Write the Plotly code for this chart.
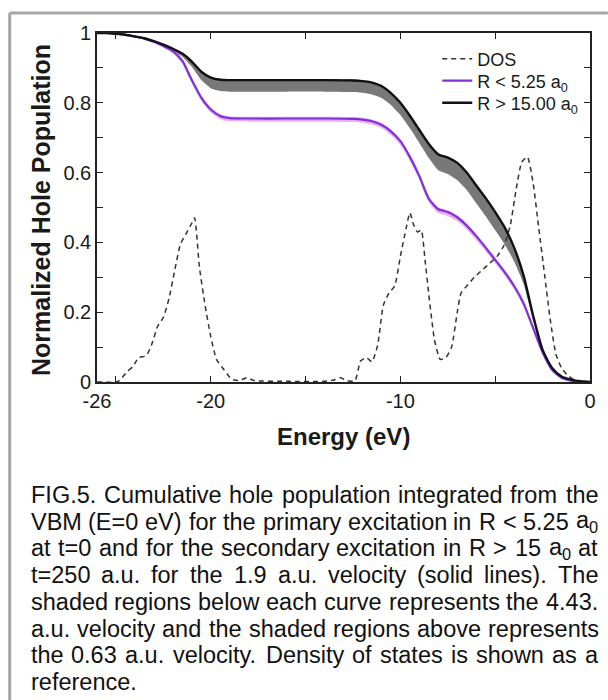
import re
import plotly.graph_objects as go

# ---------------- data ----------------
energy = [-26, -25.5, -25, -24.5, -24, -23.5, -23, -22.5, -22, -21.5, -21, -20.5, -20, -19.5, -19,
          -18, -16, -14, -12.5, -12, -11.5, -11, -10.5, -10, -9.5, -9, -8.5, -8, -7.5, -7, -6.5,
          -6, -5.5, -5, -4.5, -4, -3.5, -3, -2.5, -2, -1.5, -1, -0.5, 0]

r_out = [1.0, 1.0, 0.998, 0.995, 0.99, 0.985, 0.977, 0.967, 0.955, 0.941, 0.918, 0.889, 0.872, 0.866, 0.865,
         0.865, 0.865, 0.865, 0.864, 0.862, 0.858, 0.848, 0.828, 0.80, 0.763, 0.722, 0.682, 0.652, 0.643, 0.628, 0.600,
         0.563, 0.527, 0.487, 0.443, 0.385, 0.305, 0.19, 0.092, 0.04, 0.016, 0.007, 0.002, 0.0]
r_out_hi = [1.0, 1.0, 0.999, 0.996, 0.991, 0.986, 0.978, 0.969, 0.958, 0.944, 0.921, 0.892, 0.875, 0.869, 0.868,
            0.868, 0.868, 0.868, 0.867, 0.865, 0.861, 0.851, 0.831, 0.803, 0.766, 0.725, 0.685, 0.655, 0.646, 0.631, 0.603,
            0.566, 0.53, 0.49, 0.446, 0.388, 0.308, 0.193, 0.094, 0.041, 0.017, 0.007, 0.002, 0.0]
r_out_lo = [1.0, 1.0, 0.997, 0.994, 0.989, 0.984, 0.975, 0.963, 0.950, 0.932, 0.903, 0.865, 0.842, 0.834, 0.832,
            0.832, 0.832, 0.832, 0.831, 0.829, 0.824, 0.814, 0.794, 0.765, 0.727, 0.685, 0.642, 0.607, 0.596, 0.578, 0.55,
            0.512, 0.475, 0.435, 0.395, 0.345, 0.28, 0.178, 0.088, 0.037, 0.015, 0.006, 0.002, 0.0]

r_in = [1.0, 1.0, 0.998, 0.995, 0.99, 0.984, 0.975, 0.963, 0.948, 0.92, 0.865, 0.815, 0.781, 0.762, 0.756,
        0.755, 0.755, 0.755, 0.754, 0.752, 0.747, 0.737, 0.718, 0.69, 0.645, 0.59, 0.525, 0.495, 0.487, 0.472, 0.448,
        0.418, 0.385, 0.35, 0.315, 0.275, 0.225, 0.155, 0.085, 0.035, 0.012, 0.004, 0.001, 0.0]
r_in_hi = [1.0, 1.0, 0.999, 0.997, 0.992, 0.987, 0.978, 0.967, 0.953, 0.926, 0.872, 0.821, 0.787, 0.767, 0.761,
           0.760, 0.760, 0.760, 0.759, 0.757, 0.752, 0.742, 0.723, 0.695, 0.651, 0.596, 0.531, 0.500, 0.492, 0.477, 0.453,
           0.423, 0.390, 0.355, 0.320, 0.280, 0.230, 0.159, 0.088, 0.037, 0.013, 0.005, 0.001, 0.0]
r_in_lo = [1.0, 1.0, 0.997, 0.993, 0.988, 0.981, 0.971, 0.958, 0.942, 0.912, 0.856, 0.806, 0.772, 0.753, 0.747,
           0.746, 0.746, 0.746, 0.745, 0.743, 0.738, 0.728, 0.708, 0.679, 0.634, 0.579, 0.514, 0.484, 0.476, 0.461, 0.437,
           0.407, 0.375, 0.340, 0.305, 0.265, 0.215, 0.147, 0.079, 0.031, 0.010, 0.003, 0.001, 0.0]

dos_energy = [-26, -25, -24.8, -24.4, -24.1, -23.8, -23.4, -23.1, -22.8, -22.5, -22.2, -21.9, -21.6, -21.3,
              -21.0, -20.85, -20.6, -20.3, -20.0, -19.7, -19.3, -18.9, -18.5, -18.1, -17.7, -16, -14, -13.5,
              -13.2, -12.8, -12.4, -12.1, -11.8, -11.5, -11.2, -10.9, -10.6, -10.3, -10.0, -9.7, -9.5, -9.3,
              -9.1, -8.9, -8.7, -8.5, -8.2, -7.9, -7.6, -7.3, -7.0, -6.8, -6.5, -6.1, -5.7, -5.3, -4.9, -4.5,
              -4.2, -3.9, -3.6, -3.3, -3.0, -2.7, -2.4, -2.1, -1.8, -1.5, -1.2, -0.9, -0.5, 0]
dos = [0.0, 0.0, 0.005, 0.03, 0.045, 0.07, 0.075, 0.11, 0.16, 0.185, 0.24, 0.32, 0.395, 0.425,
       0.455, 0.47, 0.33, 0.22, 0.13, 0.065, 0.035, 0.008, 0.004, 0.012, 0.004, 0.002, 0.002, 0.006,
       0.013, 0.004, 0.003, 0.06, 0.07, 0.058, 0.105, 0.22, 0.255, 0.275, 0.36, 0.44, 0.485, 0.45,
       0.43, 0.435, 0.35, 0.25, 0.12, 0.065, 0.07, 0.1, 0.2, 0.255, 0.275, 0.3, 0.32, 0.34, 0.36, 0.395,
       0.45, 0.55, 0.63, 0.645, 0.57, 0.44, 0.31, 0.18, 0.08, 0.04, 0.02, 0.008, 0.002, 0.0]

x_tickvals = [-26, -20, -10, 0]
x_ticktext = ["-26", "-20", "-10", "0"]
x_minor = [-25, -15, -5]
y_tickvals = [0, 0.2, 0.4, 0.6, 0.8, 1.0]
y_ticktext = ["0", "0.2", "0.4", "0.6", "0.8", "1"]
y_minor = [0.1, 0.3, 0.5, 0.7, 0.9]

legend_names = ["DOS", "R < 5.25 a<sub>0</sub>", "R > 15.00 a<sub>0</sub>"]

caption_lines = [
    "FIG.5. Cumulative hole population integrated from the",
    "VBM (E=0 eV) for the primary excitation in R < 5.25 a<sub>0</sub>",
    "at t=0 and for the secondary excitation in R > 15 a<sub>0</sub> at",
    "t=250 a.u. for the 1.9 a.u. velocity (solid lines). The",
    "shaded regions below each curve represents the 4.43.",
    "a.u. velocity and the shaded regions above represents",
    "the 0.63 a.u. velocity.  Density of states is shown as a",
    "reference.",
]

# ---------------- layout geometry ----------------
W_FIG, H_FIG = 608, 700
PL, PR, PT, PB = 97, 594, 33, 382   # plot area in pixels


def px2paper_x(px):
    return (px - PL) / (PR - PL)


def px2paper_y(py):
    return (PB - py) / (PB - PT)


FONT = "Liberation Sans, Arial, Helvetica, sans-serif"
SPL = dict(shape="spline", smoothing=0.6)

fig = go.Figure()

# black band (R > 15): 4.43 a.u. below, 0.63 a.u. above
fig.add_trace(go.Scatter(x=energy, y=r_out_lo, mode="lines", line=dict(width=0, **SPL),
                         showlegend=False, hoverinfo="skip"))
fig.add_trace(go.Scatter(x=energy, y=r_out_hi, mode="lines", line=dict(width=0, **SPL),
                         fill="tonexty", fillcolor="rgba(108,108,108,0.92)", showlegend=False, hoverinfo="skip"))
# purple band (R < 5.25)
fig.add_trace(go.Scatter(x=energy, y=r_in_lo, mode="lines", line=dict(width=0, **SPL),
                         showlegend=False, hoverinfo="skip"))
fig.add_trace(go.Scatter(x=energy, y=r_in_hi, mode="lines", line=dict(width=0, **SPL),
                         fill="tonexty", fillcolor="rgba(232,150,255,0.8)", showlegend=False, hoverinfo="skip"))

fig.add_trace(go.Scatter(x=dos_energy, y=dos, mode="lines", name=legend_names[0], legend="legend",
                         line=dict(color="#333333", width=1.5, dash="5px,4px", shape="spline", smoothing=0.5)))
fig.add_trace(go.Scatter(x=energy, y=r_in, mode="lines", name=legend_names[1], legend="legend2",
                         line=dict(color="#7f33d6", width=2.2, **SPL)))
fig.add_trace(go.Scatter(x=energy, y=r_out, mode="lines", name=legend_names[2], legend="legend3",
                         line=dict(color="#111111", width=2.4, **SPL)))

axis_common = dict(showline=True, linecolor="#222222", linewidth=1.6, mirror="ticks", ticks="inside",
                   ticklen=6, tickwidth=1.3, tickcolor="#222222", showgrid=False, zeroline=False,
                   tickfont=dict(family=FONT, size=20, color="#1a1a1a"))

fig.update_xaxes(range=[-26, 0], tickmode="array", tickvals=x_tickvals, ticktext=x_ticktext,
                 minor=dict(tickmode="array", tickvals=x_minor, ticks="inside", ticklen=6, tickwidth=1.3,
                            tickcolor="#222222", showgrid=False),
                 **axis_common)
fig.update_yaxes(range=[0, 1], tickmode="array", tickvals=y_tickvals, ticktext=y_ticktext,
                 minor=dict(tickmode="array", tickvals=y_minor, ticks="inside", ticklen=6, tickwidth=1.3,
                            tickcolor="#222222", showgrid=False),
                 **axis_common)

annotations = []
# axis titles
annotations.append(dict(text="<b>Energy (eV)</b>", xref="paper", yref="paper",
                        x=px2paper_x((PL + PR) / 2), y=px2paper_y(437), xanchor="center", yanchor="middle",
                        showarrow=False, font=dict(family=FONT, size=24, color="#1a1a1a")))
annotations.append(dict(text="<b>Normalized Hole Population</b>", xref="paper", yref="paper",
                        x=px2paper_x(40), y=px2paper_y((PT + PB) / 2 + 2), xanchor="center", yanchor="middle",
                        textangle=-90, showarrow=False, font=dict(family=FONT, size=25, color="#1a1a1a")))

# caption, justified word by word using Arial/Liberation Sans advance widths
ARIAL = {" ": 278, "(": 333, ")": 333, ",": 278, "-": 333, ".": 278, "<": 584, "=": 584, ">": 584,
         "0": 556, "1": 556, "2": 556, "3": 556, "4": 556, "5": 556, "6": 556, "7": 556, "8": 556, "9": 556,
         "A": 667, "B": 667, "C": 722, "D": 722, "E": 667, "F": 611, "G": 778, "H": 722, "I": 278, "J": 500,
         "K": 667, "L": 556, "M": 833, "N": 722, "O": 778, "P": 667, "Q": 778, "R": 722, "S": 667, "T": 611,
         "U": 722, "V": 667, "W": 944, "X": 667, "Y": 667, "Z": 611,
         "a": 556, "b": 556, "c": 500, "d": 556, "e": 556, "f": 278, "g": 556, "h": 556, "i": 222, "j": 222,
         "k": 500, "l": 222, "m": 833, "n": 556, "o": 556, "p": 556, "q": 556, "r": 333, "s": 500, "t": 278,
         "u": 556, "v": 500, "w": 722, "x": 500, "y": 500, "z": 500}


def word_width(word, size):
    total = 0.0
    for part in re.split(r"(<sub>.*?</sub>)", word):
        if part.startswith("<sub>"):
            total += sum(ARIAL.get(c, 556) for c in part[5:-6]) * 0.7
        else:
            total += sum(ARIAL.get(c, 556) for c in part)
    return total * size / 1000.0


CAP_SIZE = 23.5
CAP_L, CAP_R = 30, 602
CAP_Y0, CAP_DY = 495, 26.7
for i, line in enumerate(caption_lines):
    words = line.split()
    yc = CAP_Y0 + i * CAP_DY
    widths = [word_width(w, CAP_SIZE) for w in words]
    if i < len(caption_lines) - 1 and len(words) > 1:
        gap = (CAP_R - CAP_L - sum(widths)) / (len(words) - 1)
    else:
        gap = ARIAL[" "] * CAP_SIZE / 1000.0
    xpos = CAP_L
    for w, wd in zip(words, widths):
        annotations.append(dict(text=w, xref="paper", yref="paper", x=px2paper_x(xpos), y=px2paper_y(yc),
                                xanchor="left", yanchor="middle", showarrow=False, borderpad=0, borderwidth=0,
                                font=dict(family=FONT, size=CAP_SIZE, color="#111111")))
        xpos += wd + gap

shapes = [
    dict(type="line", xref="paper", yref="paper", x0=px2paper_x(9), x1=px2paper_x(612),
         y0=px2paper_y(13), y1=px2paper_y(13), line=dict(color="#a6a6a6", width=3)),
    dict(type="line", xref="paper", yref="paper", x0=px2paper_x(9), x1=px2paper_x(9),
         y0=px2paper_y(13), y1=px2paper_y(704), line=dict(color="#a6a6a6", width=3)),
]

leg_common = dict(xanchor="left", yanchor="middle", bgcolor="rgba(0,0,0,0)", borderwidth=0,
                  font=dict(family=FONT, size=18, color="#1a1a1a"), itemwidth=30)
LEG_X = 440
fig.update_layout(
    width=W_FIG, height=H_FIG, autosize=False,
    margin=dict(l=PL, r=W_FIG - PR, t=PT, b=H_FIG - PB, pad=0),
    paper_bgcolor="white", plot_bgcolor="white",
    showlegend=True,
    legend=dict(x=px2paper_x(LEG_X), y=px2paper_y(59), **leg_common),
    legend2=dict(x=px2paper_x(LEG_X), y=px2paper_y(81), **leg_common),
    legend3=dict(x=px2paper_x(LEG_X), y=px2paper_y(103), **leg_common),
    annotations=annotations,
    shapes=shapes,
)

fig.write_html("out.html", config={"displayModeBar": False},
               post_script="document.body.style.margin='0';document.body.style.overflow='hidden';")
